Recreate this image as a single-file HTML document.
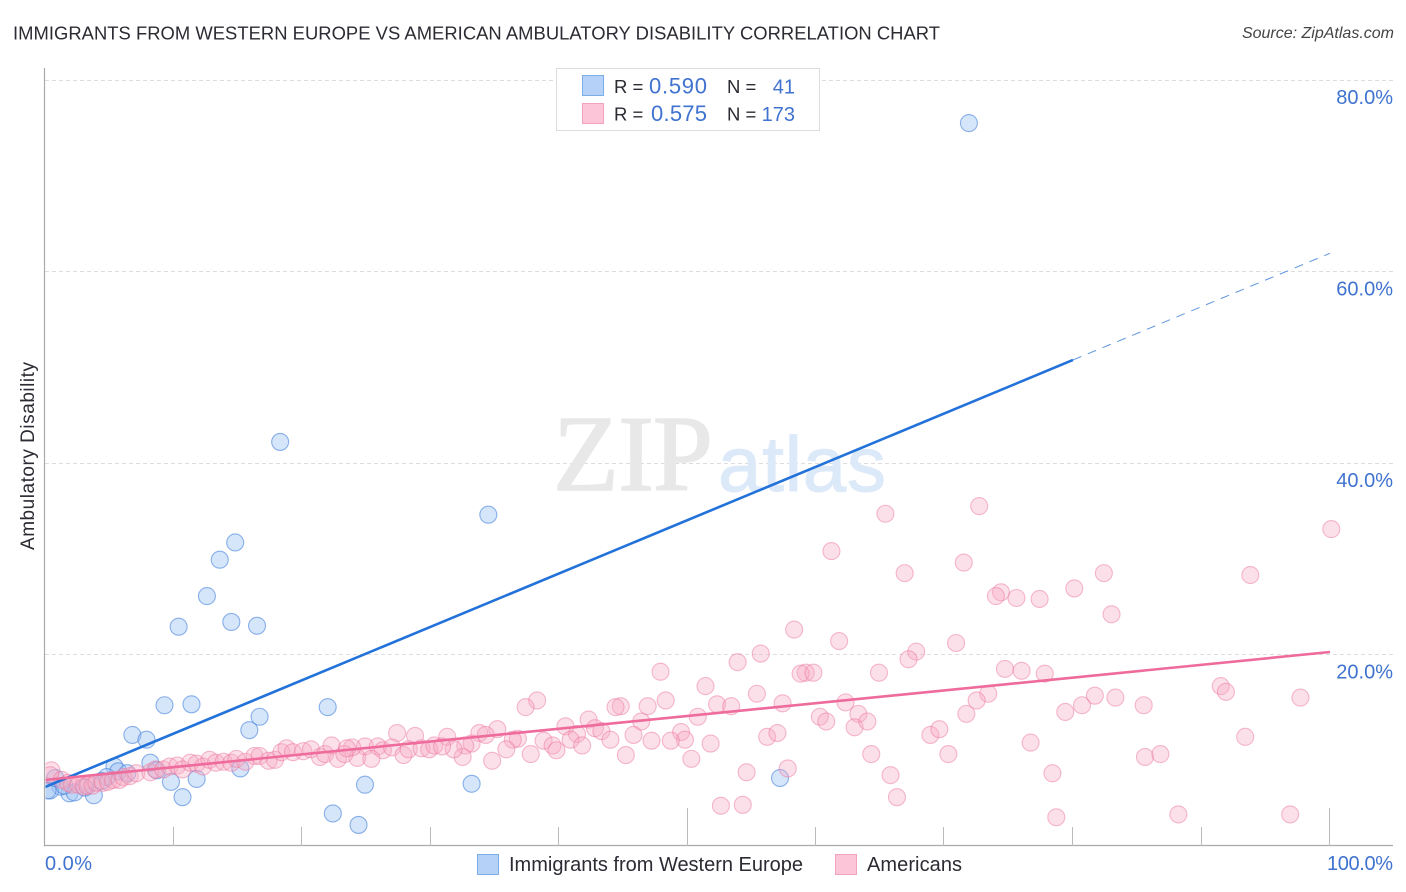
<!DOCTYPE html>
<html>
<head>
<meta charset="utf-8">
<title>Immigrants from Western Europe vs American Ambulatory Disability Correlation Chart</title>
<style>
html,body{margin:0;padding:0;background:#fff;width:1406px;height:892px;overflow:hidden}
svg{display:block;font-family:"Liberation Sans",sans-serif}
</style>
</head>
<body>
<svg id="chart" xmlns="http://www.w3.org/2000/svg" width="1406" height="892" viewBox="0 0 1406 892">
  <defs>
    <clipPath id="plot-clip"><rect x="45.5" y="60" width="1350" height="786"/></clipPath>
  </defs>
  <rect x="0" y="0" width="1406" height="892" fill="#ffffff"/>
  <text x="13" y="39.5" font-size="18.4" fill="#2b2b33" textLength="927">IMMIGRANTS FROM WESTERN EUROPE VS AMERICAN AMBULATORY DISABILITY CORRELATION CHART</text>
  <text x="1394" y="38" font-size="16" font-style="italic" fill="#444" text-anchor="end">Source: ZipAtlas.com</text>
  <g id="grid"></g>
  <g>
    <text x="553" y="490" font-family="'Liberation Serif',serif" font-size="108" fill="#e8e8e8" stroke="#e8e8e8" stroke-width="1.5" textLength="160">ZIP</text>
    <text x="718" y="491" font-size="78" fill="#dce9f9" stroke="#dce9f9" stroke-width="1" textLength="168">atlas</text>
  </g>
  <g id="axes"></g>
  <g id="marks" clip-path="url(#plot-clip)"></g>
  <g id="trends" clip-path="url(#plot-clip)"></g>
  <text transform="translate(34,550) rotate(-90)" font-size="19" fill="#2b2b33" textLength="188">Ambulatory Disability</text>

  <g>
    <rect x="556.5" y="68.5" width="263" height="62" fill="#ffffff" stroke="#dddddd"/>
    <rect x="582.5" y="75.5" width="21" height="20" fill="#b5d1f7" stroke="#7baee8"/>
    <rect x="582.5" y="103.5" width="21" height="20" fill="#fcc5d8" stroke="#f3a3bd"/>
    <g font-size="18.5" fill="#2b2b33">
      <text x="614" y="93">R =</text>
      <text x="727" y="93">N =</text>
      <text x="614" y="120.5">R =</text>
      <text x="727" y="120.5">N =</text>
    </g>
    <g font-size="22" fill="#3f73cf">
      <text x="649" y="93.5" textLength="58">0.590</text>
      <text x="651" y="121" textLength="56">0.575</text>
    </g>
    <g font-size="20" fill="#3f73cf" text-anchor="end">
      <text x="795" y="93.5">41</text>
      <text x="795" y="121">173</text>
    </g>
  </g>

  <g>
    <rect x="477.5" y="854.5" width="21" height="20" fill="#b5d1f7" stroke="#7baee8"/>
    <text x="509" y="871" font-size="20" fill="#2b2b33" textLength="294">Immigrants from Western Europe</text>
    <rect x="835.5" y="854.5" width="21" height="20" fill="#fcc5d8" stroke="#f3a3bd"/>
    <text x="867" y="871" font-size="20" fill="#2b2b33" textLength="95">Americans</text>
  </g>
</svg>
<script>
var xTickValues = [0, 10, 20, 30, 40, 50, 60, 70, 80, 90, 100];
var majorXTicks = [50, 100];
var xEdgeLabels = ["0.0%", "100.0%"];
var yTickValues = [20, 40, 60, 80];
var yTickLabels = ["20.0%", "40.0%", "60.0%", "80.0%"];

var immigrantsX = [71.9,18.3,34.5,14.8,13.6,12.6,10.4,14.5,16.5,9.3,11.4,22.0,16.7,15.9,6.8,7.9,8.2,5.4,5.7,15.2,6.4,8.7,57.2,11.8,9.8,4.8,24.9,33.2,10.7,22.4,24.4,3.8,1.9,2.3,1.2,0.4,0.2,0.8,3.1,4.4,1.5];
var immigrantsY = [75.5,42.2,34.6,31.7,29.9,26.1,22.9,23.4,23.0,14.7,14.8,14.5,13.5,12.1,11.6,11.1,8.7,8.3,7.8,8.1,7.6,7.9,7.1,7.0,6.7,7.2,6.4,6.5,5.1,3.4,2.2,5.3,5.5,5.6,6.2,5.8,5.8,7.1,6.1,6.8,6.3];

var americansX = [
100.1,72.7,65.4,61.2,71.5,66.9,82.4,80.1,93.8,74.4,74.0,75.6,77.4,83.0,58.3,61.8,70.9,67.8,67.2,55.7,
53.9,59.2,58.8,59.8,64.9,74.7,76.0,77.8,51.4,55.4,91.5,91.9,97.7,73.4,72.5,81.7,83.3,85.5,80.7,79.4,
71.7,62.3,57.4,52.3,53.4,60.3,60.8,63.3,63.0,64.0,51.8,54.6,52.6,54.3,56.2,57.0,57.8,64.3,65.8,66.3,
68.9,69.6,70.3,76.7,78.4,78.7,85.6,86.8,93.4,88.2,96.9,
47.9,38.3,37.4,48.3,46.9,44.8,44.4,42.3,46.4,50.8,40.5,35.2,33.8,34.3,27.4,28.8,31.3,42.8,43.3,41.4,
45.8,49.5,49.8,47.2,48.7,44.0,40.9,38.8,39.5,36.8,36.4,41.8,39.8,35.9,33.2,32.7,32.5,31.8,37.8,34.8,
45.2,50.3,24.9,25.9,26.3,27.0,24.3,25.4,27.9,28.3,29.3,29.9,30.3,30.9,23.9,
0.5,0.4,1.3,1.8,2.1,2.6,3.0,3.3,3.7,4.0,4.5,4.9,5.3,5.8,6.1,6.6,7.1,8.2,8.6,9.2,9.7,10.3,10.7,11.3,11.8,
12.3,12.8,13.3,13.9,14.5,14.9,15.6,16.3,16.7,17.4,17.9,18.4,18.8,19.3,20.1,20.7,21.4,21.8,22.3,22.8,23.3,23.5];
var americansY = [
33.1,35.5,34.7,30.8,29.6,28.5,28.5,26.9,28.3,26.5,26.1,25.9,25.8,24.2,22.6,21.4,21.2,20.3,19.5,20.1,
19.2,18.1,18.0,18.1,18.1,18.5,18.3,18.0,16.7,15.9,16.7,16.1,15.5,15.9,15.2,15.7,15.5,14.7,14.7,14.0,
13.8,15.0,14.9,14.8,14.6,13.5,13.0,13.8,12.4,13.0,10.7,7.7,4.2,4.3,11.4,11.8,8.1,9.6,7.4,5.1,
11.6,12.2,9.6,10.8,7.6,3.0,9.3,9.6,11.4,3.3,3.3,
18.2,15.2,14.5,15.2,14.6,14.6,14.5,13.2,13.0,13.5,12.5,12.2,11.8,11.6,11.8,11.5,11.4,12.3,12.0,11.7,
11.6,11.9,11.1,11.0,11.0,11.1,11.1,11.0,10.5,11.2,11.1,10.5,10.0,10.1,10.7,10.5,9.3,10.1,9.6,8.9,
9.5,9.1,10.4,10.4,10.0,10.3,9.2,9.1,9.5,10.1,10.2,10.1,10.5,10.4,10.3,
7.9,7.4,6.9,6.6,6.4,6.4,6.2,6.3,6.3,6.6,6.6,6.7,6.9,6.9,7.2,7.3,7.6,7.7,8.0,8.0,8.3,8.4,8.0,8.7,8.6,
8.3,9.0,8.7,8.8,8.7,9.1,8.8,9.4,9.4,8.9,9.0,9.8,10.2,9.8,9.9,10.1,9.3,9.6,10.5,9.1,9.6,10.2];

var immigrantsTrendStart = [0, 6.16];
var immigrantsTrendSolidEnd = [80, 50.76];
var immigrantsTrendDashEnd = [100, 61.9];
var americansTrendStart = [0, 6.9];
var americansTrendEnd = [100, 20.26];

var NS = "http://www.w3.org/2000/svg";
var PLOT_LEFT = 45, PLOT_RIGHT = 1330, PLOT_BOTTOM = 846, PLOT_TOP_V = 80, PLOT_TOP_PX = 80;
function xScale(v) { return PLOT_LEFT + (v / 100) * (PLOT_RIGHT - PLOT_LEFT); }
function yScale(v) { return PLOT_BOTTOM - (v / PLOT_TOP_V) * (PLOT_BOTTOM - PLOT_TOP_PX); }
function mk(tag, attrs, parent) {
  var el = document.createElementNS(NS, tag);
  for (var k in attrs) el.setAttribute(k, attrs[k]);
  parent.appendChild(el);
  return el;
}

var grid = document.getElementById("grid");
var axes = document.getElementById("axes");
var marks = document.getElementById("marks");
var trends = document.getElementById("trends");

yTickValues.forEach(function (v, i) {
  var y = Math.floor(yScale(v)) + 0.5;
  var line = mk("line", {x1: 45, x2: 1394, y1: y, y2: y, stroke: "#dddddd", "stroke-width": 1, "stroke-dasharray": "4 3"}, grid);
  
  
  var label = mk("text", {x: 1393, y: yScale(v) + 24, "font-size": 20, fill: "#3f73cf", "text-anchor": "end"}, axes);
  
  
  label.textContent = yTickLabels[i];
});

var yAxis = mk("line", {x1: 44.5, x2: 44.5, y1: 68, y2: 846.5, stroke: "#aaaaaa", "stroke-width": 1.2}, axes);


var xAxis = mk("line", {x1: 44, x2: 1393, y1: 845.5, y2: 845.5, stroke: "#aaaaaa", "stroke-width": 1.2}, axes);



xTickValues.forEach(function (v) {
  if (v === 0) return;
  var x = Math.round(xScale(v)) - 0.5;
  var tall = majorXTicks.indexOf(v) >= 0;
  var tick = mk("line", {x1: x, x2: x, y1: tall ? 808 : 827, y2: 846, stroke: "#bbbbbb", "stroke-width": 1}, axes);
  
  
});

var xLabelLeft = mk("text", {x: 45, y: 870, "font-size": 20, fill: "#3f73cf", textLength: 47}, axes);


xLabelLeft.textContent = xEdgeLabels[0];
var xLabelRight = mk("text", {x: 1327, y: 870, "font-size": 20, fill: "#3f73cf", textLength: 66}, axes);


xLabelRight.textContent = xEdgeLabels[1];

immigrantsX.forEach(function (v, i) {
  var c = mk("circle", {cx: xScale(v), cy: yScale(immigrantsY[i]), r: 8.5, fill: "rgba(155,194,243,0.42)", stroke: "rgba(70,130,220,0.6)", "stroke-width": 1.1}, marks);
  
  
});
americansX.forEach(function (v, i) {
  var c = mk("circle", {cx: xScale(v), cy: yScale(americansY[i]), r: 8.5, fill: "rgba(248,170,195,0.36)", stroke: "rgba(236,120,160,0.5)", "stroke-width": 1.1}, marks);
  
  
});

var blueSolid = mk("line", {x1: xScale(immigrantsTrendStart[0]), y1: yScale(immigrantsTrendStart[1]), x2: xScale(immigrantsTrendSolidEnd[0]), y2: yScale(immigrantsTrendSolidEnd[1]), stroke: "#2272d9", "stroke-width": 2.6}, trends);


var blueDash = mk("line", {x1: xScale(immigrantsTrendSolidEnd[0]), y1: yScale(immigrantsTrendSolidEnd[1]), x2: xScale(immigrantsTrendDashEnd[0]), y2: yScale(immigrantsTrendDashEnd[1]), stroke: "#5f95dc", "stroke-width": 1, "stroke-dasharray": "9 7"}, trends);


var pinkLine = mk("line", {x1: xScale(americansTrendStart[0]), y1: yScale(americansTrendStart[1]), x2: xScale(americansTrendEnd[0]), y2: yScale(americansTrendEnd[1]), stroke: "#ee6b9b", "stroke-width": 2.6}, trends);


</script>
</body>
</html>
